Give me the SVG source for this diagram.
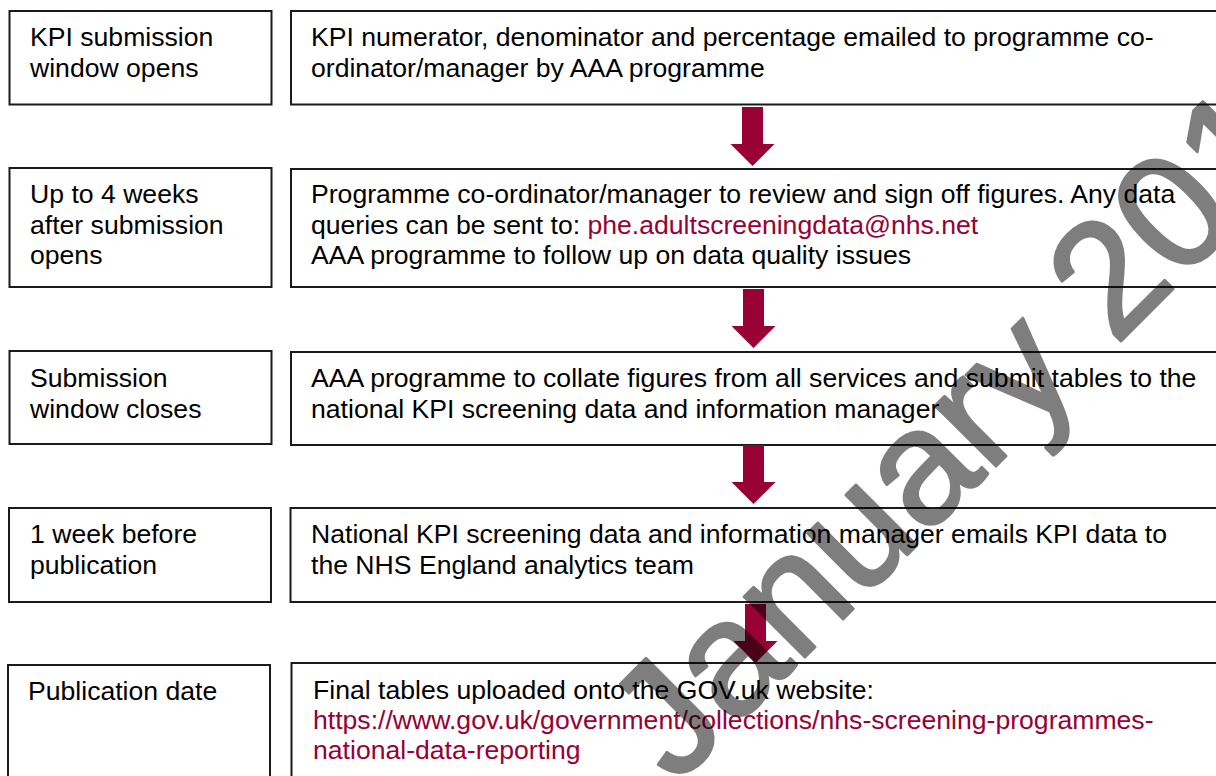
<svg xmlns="http://www.w3.org/2000/svg" width="1216" height="776" viewBox="0 0 1216 776">
  <style>
    .box { fill: #ffffff; stroke: #1a1a1a; stroke-width: 2; }
    .t { font-family: "Liberation Sans", Arial, sans-serif; font-size: 26.6px; fill: #000000; }
    .link { fill: #990033; }
    .arrow { fill: #990033; }
    .wm { font-family: "Liberation Sans", Arial, sans-serif; font-size: 162px; fill: #000000; stroke: #000000; stroke-width: 3; stroke-linejoin: round; }
  </style>
  <defs>
    <!-- block arrow, origin at top centre of the shaft -->
    <path id="down" d="M-10.5,0 H10.5 V37 H22 L0,59 L-22,37 H-10.5 Z"/>
  </defs>
  <rect x="0" y="0" width="1216" height="776" fill="#ffffff"/>

  <!-- step 1 -->
  <g id="when-1">
    <rect class="box" x="9.5" y="11" width="262" height="93.5"/>
    <text class="t" x="30" y="46">KPI submission</text>
    <text class="t" x="30" y="77">window opens</text>
  </g>
  <g id="what-1">
    <rect class="box" x="291" y="11" width="940" height="93.5"/>
    <text class="t" x="311" y="46">KPI numerator, denominator and percentage emailed to programme co-</text>
    <text class="t" x="311" y="77">ordinator/manager by AAA programme</text>
  </g>

  <!-- step 2 -->
  <g id="when-2">
    <rect class="box" x="9.5" y="168" width="262" height="119"/>
    <text class="t" x="30" y="203">Up to 4 weeks</text>
    <text class="t" x="30" y="234">after submission</text>
    <text class="t" x="30" y="264">opens</text>
  </g>
  <g id="what-2">
    <rect class="box" x="291" y="169" width="940" height="118"/>
    <text class="t" x="311" y="203">Programme co-ordinator/manager to review and sign off figures. Any data</text>
    <text class="t" x="311" y="234">queries can be sent to: <tspan class="link">phe.adultscreeningdata@nhs.net</tspan></text>
    <text class="t" x="311" y="264">AAA programme to follow up on data quality issues</text>
  </g>

  <!-- step 3 -->
  <g id="when-3">
    <rect class="box" x="9.5" y="351" width="262" height="93"/>
    <text class="t" x="30" y="387">Submission</text>
    <text class="t" x="30" y="418">window closes</text>
  </g>
  <g id="what-3">
    <rect class="box" x="291" y="352" width="940" height="93"/>
    <text class="t" x="311" y="387">AAA programme to collate figures from all services and submit tables to the</text>
    <text class="t" x="311" y="418">national KPI screening data and information manager</text>
  </g>

  <!-- step 4 -->
  <g id="when-4">
    <rect class="box" x="9" y="508" width="262" height="94"/>
    <text class="t" x="30" y="543">1 week before</text>
    <text class="t" x="30" y="574">publication</text>
  </g>
  <g id="what-4">
    <rect class="box" x="290.5" y="508" width="940" height="94"/>
    <text class="t" x="311" y="543">National KPI screening data and information manager emails KPI data to</text>
    <text class="t" x="311" y="574">the NHS England analytics team</text>
  </g>

  <!-- step 5 -->
  <g id="when-5">
    <rect class="box" x="8" y="665" width="262" height="140"/>
    <text class="t" x="28" y="700">Publication date</text>
  </g>
  <g id="what-5">
    <rect class="box" x="291.5" y="663" width="940" height="140"/>
    <text class="t" x="313" y="699">Final tables uploaded onto the GOV.uk website:</text>
    <text class="t link" x="313" y="729">https://www.gov.uk/government/collections/nhs-screening-programmes-</text>
    <text class="t link" x="313" y="759">national-data-reporting</text>
  </g>

  <!-- connectors between steps -->
  <g id="connectors" class="arrow">
    <use href="#down" transform="translate(752.5,107)"/>
    <use href="#down" transform="translate(753.5,289)"/>
    <use href="#down" transform="translate(753.5,445)"/>
    <use href="#down" transform="translate(755.5,604)"/>
  </g>

  <!-- diagonal watermark, half-transparent over everything -->
  <g opacity="0.5">
    <text class="wm" transform="translate(676,786) rotate(-45)">January 201</text>
  </g>
</svg>
